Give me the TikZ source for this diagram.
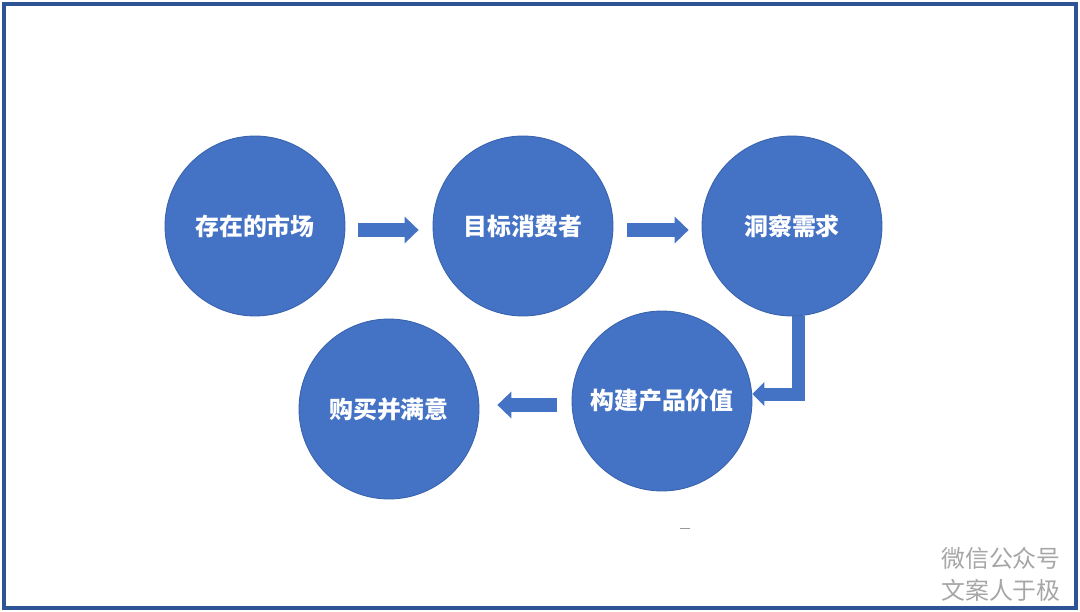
\documentclass[tikz,border=0pt]{standalone}
\usepackage{fontspec}
\newfontfamily\cjk{Noto Sans CJK SC}
\usetikzlibrary{arrows.meta}
\definecolor{circblue}{HTML}{4472C4}
\definecolor{circedge}{HTML}{3A63AE}
\definecolor{framblue}{HTML}{2F5496}
\definecolor{markgray}{HTML}{A6A6A6}
\tikzset{
	stage/.style={circle, minimum size=3.6cm, inner sep=0pt, fill=circblue,
		draw=circedge, line width=0.5pt, text=white,
		font=\cjk\bfseries\fontsize{13.6}{16}\selectfont},
	flow/.style={draw=circblue, line width=0.3cm,
		-{Triangle[width=0.54cm, length=0.28cm, line width=0pt]}},
	bendflow/.style={draw=circblue, line width=0.26cm, line join=miter,
		-{Triangle[width=0.48cm, length=0.24cm, line width=0pt]}},
	wmark/.style={text=markgray, align=center,
		font=\cjk\fontsize{13.6}{18.2}\selectfont},
}
\begin{document}
\begin{tikzpicture}[x=0.02cm, y=-0.02cm]
	\useasboundingbox (0,0) rectangle (1080,612);
	% Rahmen
	\draw[framblue, line width=0.08cm] (4,4) rectangle (1075.5,607.5);
	% Kreise
	\node[stage] (markt) at (255,226) {存在的市场};
	\node[stage] (ziel) at (523,226) {目标消费者};
	\node[stage] (bedarf) at (792,226) {洞察需求};
	\node[stage] (wert) at (662,401) {构建产品价值};
	\node[stage] (kauf) at (389,409) {购买并满意};
	% Pfeile
	\draw[flow, shorten <=0.26cm, shorten >=0.28cm]
		([yshift=-0.08cm]markt.east) -- ([yshift=-0.08cm]ziel.west);
	\draw[flow, shorten <=0.28cm, shorten >=0.26cm]
		([yshift=-0.08cm]ziel.east) -- ([yshift=-0.08cm]bedarf.west);
	\draw[bendflow] ([xshift=0.13cm]bedarf.south) |- ([yshift=0.14cm]wert.east);
	\coordinate (rueck) at ([yshift=-0.08cm]wert.west);
	\draw[flow, shorten <=0.3cm, shorten >=0.36cm] (rueck) -- (rueck -| kauf.east);
	% Strich
	\draw[gray!80, line width=0.02cm] (680,528) -- (690,528);
	% Wasserzeichen
	\node[wmark] (zeichen) at (1001,574) {微信公众号\\文案人于极};
\end{tikzpicture}
\end{document}
